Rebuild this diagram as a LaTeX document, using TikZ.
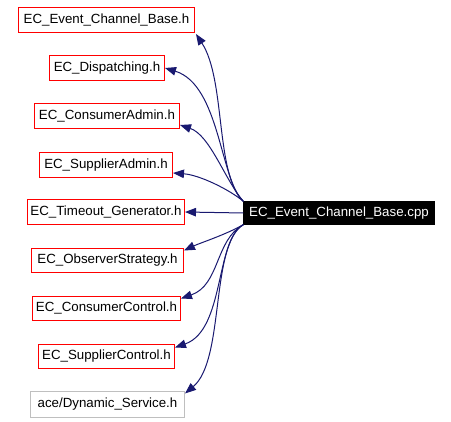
\documentclass[tikz,border=0pt]{standalone}
\usepackage{fontspec}
\setmainfont{Liberation Sans}
\usetikzlibrary{arrows.meta}
\definecolor{edgeblue}{HTML}{191970}
\definecolor{boxred}{HTML}{FF0000}
\definecolor{boxgray}{HTML}{BFBFBF}
\tikzset{
  hbox/.style={draw=boxred, line width=1pt, inner sep=0pt, font=\fontsize{13.3}{15}\selectfont, text=black},
  grayhbox/.style={hbox, draw=boxgray},
  cppbox/.style={fill=black, draw=black, inner sep=0pt, font=\fontsize{13.3}{15}\selectfont, text=white},
  dep/.style={draw=edgeblue, line width=1pt, -{Triangle[length=11pt,width=8.5pt]}, fill=none},
}
\begin{document}
\begin{tikzpicture}[x=1pt,y=-1pt]
\useasboundingbox (0,0) rectangle (451,422);
\begin{scope}[shift={(0.5,0.5)}]
\node[hbox, minimum width=176pt, minimum height=25pt] (base) at (106,19.5) {EC\_Event\_Channel\_Base.h};
\node[hbox, minimum width=115pt, minimum height=25pt] (disp) at (106.5,67.5) {EC\_Dispatching.h};
\node[hbox, minimum width=145pt, minimum height=25pt] (cadm) at (106.5,115.5) {EC\_ConsumerAdmin.h};
\node[hbox, minimum width=133pt, minimum height=25pt] (sadm) at (105.5,164.5) {EC\_SupplierAdmin.h};
\node[hbox, minimum width=157pt, minimum height=25pt] (tout) at (105.5,211.5) {EC\_Timeout\_Generator.h};
\node[hbox, minimum width=152pt, minimum height=24pt] (obs) at (107,260) {EC\_ObserverStrategy.h};
\node[hbox, minimum width=148pt, minimum height=24pt] (cctl) at (106,308) {EC\_ConsumerControl.h};
\node[hbox, minimum width=136pt, minimum height=24pt] (sctl) at (106,356) {EC\_SupplierControl.h};
\node[grayhbox, minimum width=154pt, minimum height=26pt] (dyn) at (107,404) {ace/Dynamic\_Service.h};
\node[cppbox, minimum width=191pt, minimum height=23pt] (cpp) at (338.5,212.5) {EC\_Event\_Channel\_Base.cpp};
\end{scope}

\draw[dep] (cpp.north west) .. controls (215,175) and (226,80) .. ([xshift=1pt,yshift=-1pt]base.south east);
\draw[dep] (cpp.north west) .. controls (220,180) and (220,85) .. (disp.east);
\draw[dep] (cpp.north west) .. controls (225,180) and (210,135) .. ([yshift=-9pt]cadm.east);
\draw[dep] (cpp.north west) .. controls (230,190) and (200,175) .. ([yshift=-8pt]sadm.east);
\draw[dep] (cpp.west) -- (tout.east);
\draw[dep] (cpp.south west) .. controls (225,235) and (200,243) .. ([yshift=10pt]obs.east);
\draw[dep] (cpp.south west) .. controls (215,240) and (220,285) .. ([yshift=10pt]cctl.east);
\draw[dep] (cpp.south west) .. controls (215,240) and (225,330) .. ([yshift=9pt]sctl.east);
\draw[dep] (cpp.south west) .. controls (210,245) and (225,360) .. ([yshift=11pt]dyn.east);
\end{tikzpicture}
\end{document}
